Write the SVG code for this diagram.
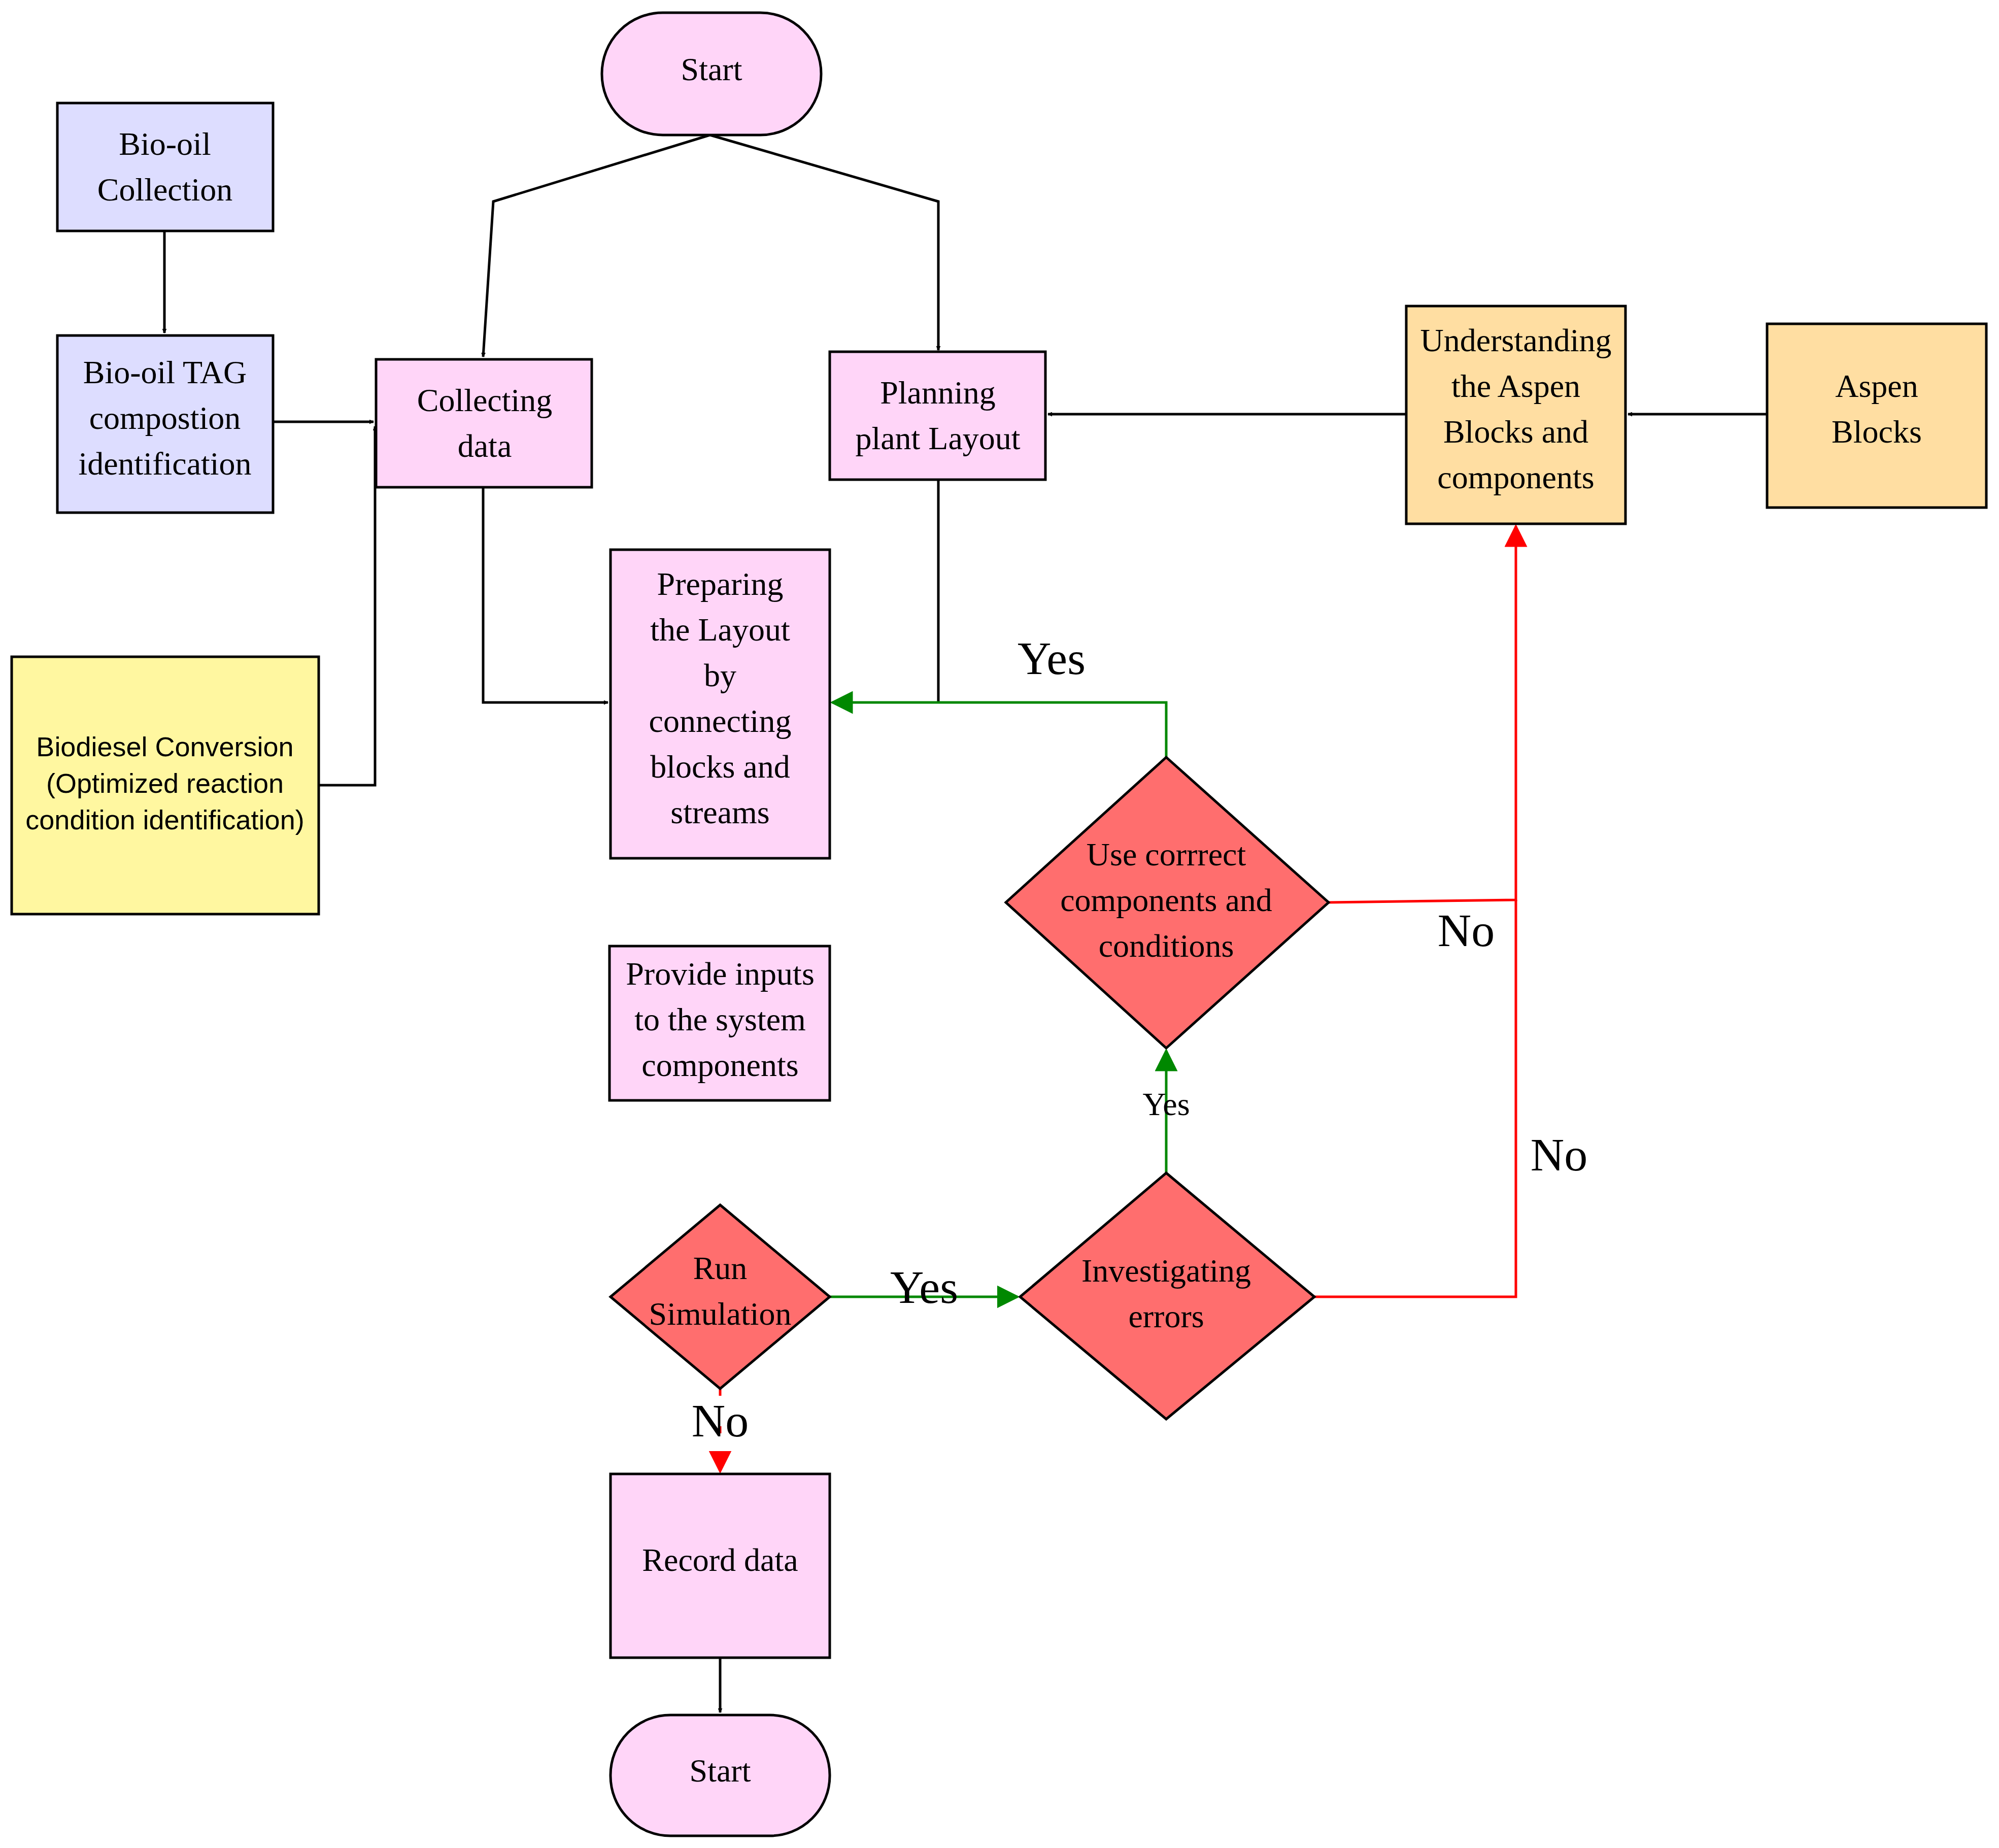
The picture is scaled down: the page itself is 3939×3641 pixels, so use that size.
<svg xmlns="http://www.w3.org/2000/svg" width="3939" height="3641" viewBox="0 0 3939 3641">
<style>
.n{stroke:#000;stroke-width:5}
.p{fill:#FFD5F8}.l{fill:#DDDDFF}.y{fill:#FFF7A0}.o{fill:#FFDEA2}.r{fill:#FF6E6E}
text{font-family:"Liberation Serif",serif;font-size:64px;text-anchor:middle;fill:#000}
.s{font-family:"Liberation Sans",sans-serif;font-size:54px}
.e{fill:none;stroke-width:5}
.k{stroke:#000}.g{stroke:#008800}.rd{stroke:#FF0000}
.big{font-size:92px}
</style>
<defs>
<marker id="ak" viewBox="0 0 10 10" refX="9" refY="5" markerWidth="9" markerHeight="9" markerUnits="userSpaceOnUse" orient="auto"><path d="M0,0L10,5L0,10z" fill="#000"/></marker>
<marker id="ag" viewBox="0 0 10 10" refX="9" refY="5" markerWidth="9" markerHeight="9" orient="auto"><path d="M0,0L10,5L0,10z" fill="#008800"/></marker>
<marker id="ar" viewBox="0 0 10 10" refX="9" refY="5" markerWidth="9" markerHeight="9" orient="auto"><path d="M0,0L10,5L0,10z" fill="#FF0000"/></marker>
</defs>
<rect width="3939" height="3641" fill="#fff"/>
<g id="connectors">
<path class="e k" d="M1399,266L972,397L952,703" marker-end="url(#ak)"/>
<path class="e k" d="M1399,266L1849,397L1849,690" marker-end="url(#ak)"/>
<path class="e k" d="M324,455L324,656" marker-end="url(#ak)"/>
<path class="e k" d="M538,831L736,831" marker-end="url(#ak)"/>
<path class="e k" d="M628,1547L739,1547L739,840" marker-end="url(#ak)"/>
<path class="e k" d="M952,960L952,1384L1198,1384" marker-end="url(#ak)"/>
<path class="e k" d="M1849,945L1849,1384"/>
<path class="e g" d="M2298,1492L2298,1384L1640,1384" marker-end="url(#ag)"/>
<path class="e k" d="M2771,816L2065,816" marker-end="url(#ak)"/>
<path class="e k" d="M3482,816L3208,816" marker-end="url(#ak)"/>
<path class="e rd" d="M2618,1778L2987,1773L2987,1037" marker-end="url(#ar)"/>
<path class="e rd" d="M2590,2555L2987,2555L2987,1773"/>
<path class="e g" d="M2298,2311L2298,2070" marker-end="url(#ag)"/>
<path class="e g" d="M1635,2555L2005,2555" marker-end="url(#ag)"/>
<path class="e rd" d="M1419,2736L1419,2899" stroke-dasharray="14,60" marker-end="url(#ar)"/>
<path class="e k" d="M1419,3266L1419,3374" marker-end="url(#ak)"/>
<text class="big" x="2072" y="1328">Yes</text>
<text class="big" x="2889" y="1864">No</text>
<text class="big" x="3072" y="2306">No</text>
<text x="2298" y="2197">Yes</text>
<text class="big" x="1821" y="2567">Yes</text>
<text class="big" x="1419" y="2830">No</text>
</g>
<g id="start1"><rect class="n p" x="1186" y="25" width="432" height="241" rx="120"/><text x="1402" y="158">Start</text></g>
<g id="biooil"><rect class="n l" x="113" y="203" width="425" height="252"/><text x="325" y="305">Bio-oil</text><text x="325" y="395">Collection</text></g>
<g id="tag"><rect class="n l" x="113" y="661" width="425" height="349"/><text x="325" y="755">Bio-oil TAG</text><text x="325" y="845">compostion</text><text x="325" y="935">identification</text></g>
<g id="collect"><rect class="n p" x="741" y="708" width="425" height="252"/><text x="955" y="810">Collecting</text><text x="955" y="900">data</text></g>
<g id="plan"><rect class="n p" x="1635" y="693" width="425" height="252"/><text x="1848" y="795">Planning</text><text x="1848" y="885">plant Layout</text></g>
<g id="underst"><rect class="n o" x="2771" y="603" width="432" height="429"/><text x="2987" y="692">Understanding</text><text x="2987" y="782">the Aspen</text><text x="2987" y="872">Blocks and</text><text x="2987" y="962">components</text></g>
<g id="aspen"><rect class="n o" x="3482" y="638" width="432" height="362"/><text x="3698" y="782">Aspen</text><text x="3698" y="872">Blocks</text></g>
<g id="biodiesel"><rect class="n y" x="23" y="1294" width="605" height="507"/><text class="s" x="325" y="1490">Biodiesel Conversion</text><text class="s" x="325" y="1562">(Optimized reaction</text><text class="s" x="325" y="1634">condition identification)</text></g>
<g id="prep"><rect class="n p" x="1203" y="1083" width="432" height="608"/><text x="1419" y="1172">Preparing</text><text x="1419" y="1262">the Layout</text><text x="1419" y="1352">by</text><text x="1419" y="1442">connecting</text><text x="1419" y="1532">blocks and</text><text x="1419" y="1622">streams</text></g>
<g id="usecorrect"><polygon class="n r" points="2298,1492 2618,1778 2298,2065 1982,1778"/><text x="2298" y="1705">Use corrrect</text><text x="2298" y="1795">components and</text><text x="2298" y="1885">conditions</text></g>
<g id="provide"><rect class="n p" x="1201" y="1864" width="434" height="304"/><text x="1419" y="1940">Provide inputs</text><text x="1419" y="2030">to the system</text><text x="1419" y="2120">components</text></g>
<g id="run"><polygon class="n r" points="1419,2374 1635,2555 1419,2736 1203,2555"/><text x="1419" y="2520">Run</text><text x="1419" y="2610">Simulation</text></g>
<g id="invest"><polygon class="n r" points="2298,2311 2590,2555 2298,2796 2010,2555"/><text x="2298" y="2525">Investigating</text><text x="2298" y="2615">errors</text></g>
<g id="record"><rect class="n p" x="1203" y="2904" width="432" height="362"/><text x="1419" y="3095">Record data</text></g>
<g id="start2"><rect class="n p" x="1203" y="3379" width="432" height="238" rx="118"/><text x="1419" y="3510">Start</text></g>
</svg>
